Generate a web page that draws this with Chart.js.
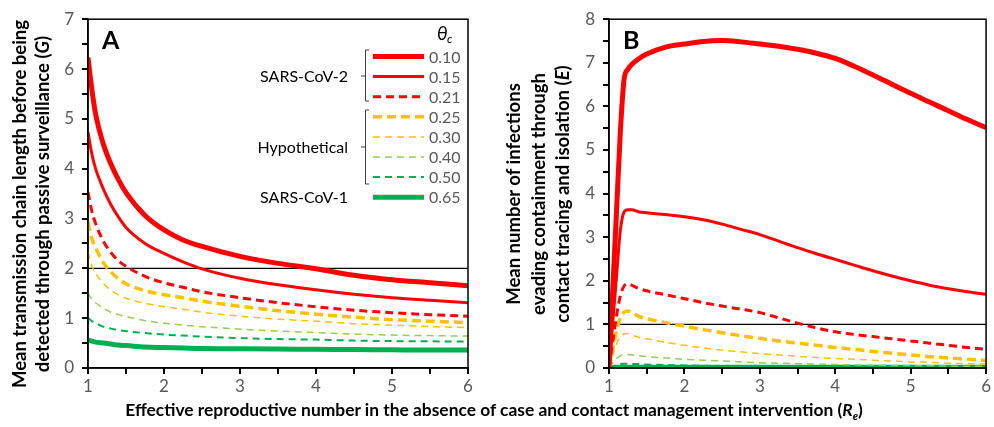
<!DOCTYPE html>
<html>
<head>
<meta charset="utf-8">
<script src="https://cdn.jsdelivr.net/npm/chart.js@4.4.1/dist/chart.umd.min.js"></script>
<style>
  body { margin: 0; background: #fff; width: 994px; height: 427px; position: relative; overflow: hidden; font-family: Lato, sans-serif; }
  canvas { position: absolute; top: 0; }
  #chartA { left: 0; }
  #chartB { left: 500px; }
  .ytitle { position: absolute; font-weight: bold; font-size: 18.5px; text-align: center; white-space: nowrap; transform: rotate(-90deg); color: #000; }
  .xtitle { position: absolute; left: 0; width: 988px; top: 399px; text-align: center; font-weight: bold; font-size: 17.4px; color: #000; }
  .xtitle sub { font-size: 11px; }
</style>
</head>
<body>
<canvas id="chartA" width="480" height="400"></canvas>
<canvas id="chartB" width="494" height="400"></canvas>
<div class="ytitle" style="left:-189px; top:181px; width:440px; height:46px; line-height:23px;">Mean transmission chain length before being<br>detected through passive surveillance (<i>G</i>)</div>
<div class="ytitle" style="left:378px; top:157px; width:320px; height:74px; line-height:24.5px;">Mean number of infections<br>evading containment through<br>contact tracing and isolation (<i>E</i>)</div>
<div class="xtitle">Effective reproductive number in the absence of case and contact management intervention (<i>R</i><sub><i>e</i></sub>)</div>
<script>
// theta_c groups and values
const thetas = ['0.10', '0.15', '0.21', '0.25', '0.30', '0.40', '0.50', '0.65'];

// panel A: chain length G
const reA = [1, 1.05, 1.1, 1.2, 1.3, 1.4, 1.5, 1.75, 2, 2.25, 2.5, 3, 3.5, 4, 4.5, 5, 5.5, 6];
const g010 = [6.23, 5.6, 5.1, 4.5, 4.1, 3.78, 3.52, 3.06, 2.77, 2.57, 2.44, 2.24, 2.1, 1.99, 1.86, 1.77, 1.71, 1.65];
const g015 = [4.73, 4.3, 4.0, 3.6, 3.28, 3.03, 2.82, 2.5, 2.3, 2.13, 1.99, 1.8, 1.67, 1.57, 1.48, 1.41, 1.36, 1.31];
const g021 = [3.53, 3.15, 2.9, 2.55, 2.32, 2.15, 2.04, 1.84, 1.71, 1.62, 1.53, 1.41, 1.31, 1.23, 1.16, 1.11, 1.07, 1.04];
const g025 = [2.93, 2.6, 2.42, 2.12, 1.93, 1.79, 1.69, 1.55, 1.47, 1.41, 1.34, 1.24, 1.15, 1.08, 1.02, 0.97, 0.94, 0.91];
const g030 = [2.33, 2.05, 1.9, 1.7, 1.56, 1.47, 1.4, 1.3, 1.23, 1.18, 1.12, 1.04, 0.98, 0.94, 0.89, 0.86, 0.83, 0.81];
const g040 = [1.51, 1.38, 1.31, 1.2, 1.12, 1.07, 1.03, 0.95, 0.9, 0.86, 0.83, 0.78, 0.74, 0.71, 0.68, 0.66, 0.65, 0.64];
const g050 = [1.01, 0.94, 0.9, 0.83, 0.79, 0.76, 0.74, 0.7, 0.67, 0.65, 0.63, 0.6, 0.58, 0.57, 0.55, 0.54, 0.535, 0.53];
const g065 = [0.56, 0.54, 0.52, 0.5, 0.48, 0.46, 0.45, 0.42, 0.41, 0.4, 0.39, 0.385, 0.38, 0.375, 0.37, 0.365, 0.36, 0.36];
const refA = 2;

// panel B: infections evading containment E
const reB = [1, 1.05, 1.1, 1.15, 1.2, 1.25, 1.3, 1.4, 1.5, 1.75, 2, 2.25, 2.5, 2.75, 3, 3.25, 3.5, 3.75, 4, 4.25, 4.5, 4.75, 5, 5.25, 5.5, 5.75, 6];
const e010 = [0, 1.8, 3.6, 5.4, 6.62, 6.85, 6.96, 7.1, 7.2, 7.36, 7.43, 7.49, 7.51, 7.48, 7.43, 7.38, 7.31, 7.22, 7.1, 6.92, 6.72, 6.51, 6.3, 6.1, 5.9, 5.7, 5.51];
const e015 = [0, 1.05, 2.1, 3.15, 3.58, 3.63, 3.63, 3.58, 3.56, 3.52, 3.47, 3.4, 3.3, 3.18, 3.06, 2.91, 2.76, 2.62, 2.49, 2.36, 2.23, 2.11, 2.0, 1.9, 1.82, 1.75, 1.69];
const e021 = [0, 0.6, 1.2, 1.65, 1.88, 1.93, 1.9, 1.82, 1.77, 1.68, 1.59, 1.5, 1.42, 1.35, 1.27, 1.15, 1.03, 0.92, 0.83, 0.77, 0.72, 0.67, 0.62, 0.57, 0.52, 0.47, 0.43];
const e025 = [0, 0.45, 0.85, 1.15, 1.28, 1.31, 1.27, 1.18, 1.13, 1.04, 0.96, 0.88, 0.81, 0.74, 0.68, 0.62, 0.57, 0.52, 0.47, 0.43, 0.38, 0.34, 0.3, 0.26, 0.23, 0.2, 0.17];
const e030 = [0, 0.3, 0.55, 0.72, 0.78, 0.79, 0.76, 0.7, 0.67, 0.59, 0.52, 0.46, 0.41, 0.37, 0.33, 0.3, 0.27, 0.24, 0.22, 0.2, 0.18, 0.16, 0.14, 0.13, 0.11, 0.1, 0.09];
const e040 = [0, 0.12, 0.22, 0.28, 0.31, 0.31, 0.3, 0.28, 0.26, 0.23, 0.2, 0.18, 0.16, 0.14, 0.12, 0.11, 0.1, 0.09, 0.08, 0.07, 0.065, 0.06, 0.055, 0.05, 0.045, 0.04, 0.04];
const e050 = [0, 0.04, 0.07, 0.09, 0.1, 0.1, 0.095, 0.09, 0.08, 0.07, 0.06, 0.05, 0.045, 0.04, 0.035, 0.032, 0.03, 0.028, 0.026, 0.024, 0.022, 0.02, 0.02, 0.018, 0.017, 0.016, 0.015];
const e065 = [0, 0.01, 0.015, 0.02, 0.02, 0.02, 0.02, 0.02, 0.02, 0.02, 0.02, 0.02, 0.02, 0.02, 0.02, 0.02, 0.02, 0.02, 0.02, 0.02, 0.02, 0.02, 0.02, 0.02, 0.02, 0.02, 0.02];
const refB = 1;
const refStartB = 1.06;

// line styles per theta
const colors = ['#ff0000', '#ff0000', '#ff0000', '#ffc000', '#ffc000', '#92d050', '#00b050', '#00b050'];
const widths = [5, 3, 3, 3.5, 1.5, 1.5, 2, 5];
const dashes = [[], [], [8, 5], [9, 5], [7, 5], [7, 5], [7, 5], []];

const gSeries = [g010, g015, g021, g025, g030, g040, g050, g065];
const eSeries = [e010, e015, e021, e025, e030, e040, e050, e065];

function buildSets(xs, series, refY, refX0) {
    const sets = series.map((ys, i) => ({
        label: thetas[i],
        data: xs.map((x, j) => ({ x: x, y: ys[j] })),
        borderColor: colors[i],
        borderWidth: widths[i],
        borderDash: dashes[i],
        pointRadius: 0,
        cubicInterpolationMode: 'monotone',
        fill: false,
    }));
    sets.push({
        label: 'ref',
        data: [{ x: refX0, y: refY }, { x: 6, y: refY }],
        borderColor: '#000',
        borderWidth: 1.3,
        pointRadius: 0,
        fill: false,
    });
    return sets;
}

// box round the plot area plus outward tick marks at every scale tick
const frame = {
    id: 'frame',
    afterDraw(chart) {
        const a = chart.chartArea;
        const ctx = chart.ctx;
        ctx.save();
        ctx.strokeStyle = '#000';
        ctx.lineWidth = 1.5;
        ctx.strokeRect(a.left, a.top, a.right - a.left, a.bottom - a.top);
        ctx.lineWidth = 2;
        ctx.beginPath();
        chart.scales.x.ticks.forEach(t => {
            const px = Math.round(chart.scales.x.getPixelForValue(t.value));
            ctx.moveTo(px, a.bottom);
            ctx.lineTo(px, a.bottom + 6);
        });
        chart.scales.y.ticks.forEach(t => {
            const py = Math.round(chart.scales.y.getPixelForValue(t.value));
            ctx.moveTo(a.left, py);
            ctx.lineTo(a.left - 6, py);
        });
        ctx.stroke();
        ctx.restore();
    }
};

function panelLetter(letter, x) {
    return {
        id: 'letter' + letter,
        afterDraw(chart) {
            const ctx = chart.ctx;
            ctx.save();
            ctx.font = 'bold 25px Lato, sans-serif';
            ctx.fillStyle = '#000';
            ctx.textBaseline = 'alphabetic';
            ctx.fillText(letter, x, 49);
            ctx.restore();
        }
    };
}

const thetaLegend = {
    id: 'thetaLegend',
    afterDraw(chart) {
        const ctx = chart.ctx;
        const sets = chart.data.datasets.filter(d => d.label !== 'ref');
        ctx.save();
        ctx.font = 'italic 19px Lato, sans-serif';
        ctx.fillStyle = '#000';
        ctx.textBaseline = 'alphabetic';
        ctx.fillText('\u03b8', 437, 40);
        ctx.font = 'italic 12px Lato, sans-serif';
        ctx.fillText('c', 447, 43);
        sets.forEach((d, i) => {
            const y = 56.5 + i * 20.1;
            ctx.strokeStyle = d.borderColor;
            ctx.lineWidth = d.borderWidth;
            ctx.setLineDash(d.borderDash);
            ctx.beginPath();
            ctx.moveTo(373, y);
            ctx.lineTo(424, y);
            ctx.stroke();
            ctx.setLineDash([]);
            ctx.font = '16px Lato, sans-serif';
            ctx.fillStyle = '#595959';
            ctx.textAlign = 'left';
            ctx.textBaseline = 'middle';
            ctx.fillText(d.label, 429, y + 1);
        });
        ctx.fillStyle = '#000';
        ctx.textAlign = 'right';
        ctx.font = '16px Lato, sans-serif';
        ctx.fillText('SARS-CoV-2', 348, 77);
        ctx.fillText('Hypothetical', 348, 148);
        ctx.fillText('SARS-CoV-1', 348, 198);
        ctx.strokeStyle = '#404040';
        ctx.lineWidth = 1;
        [[50, 101, 76], [110, 184, 147]].forEach(b => {
            ctx.beginPath();
            ctx.moveTo(369, b[0]);
            ctx.lineTo(365.5, b[0]);
            ctx.lineTo(365.5, b[1]);
            ctx.lineTo(369, b[1]);
            ctx.moveTo(365.5, b[2]);
            ctx.lineTo(361, b[2]);
            ctx.stroke();
        });
        ctx.restore();
    }
};

function axes(yMax, yWidth) {
    return {
        x: {
            type: 'linear',
            min: 1, max: 6,
            afterFit: (s) => { s.height = 32; },
            ticks: {
                stepSize: 0.5,
                autoSkip: false,
                maxRotation: 0,
                padding: 3,
                color: '#595959',
                font: { family: 'Lato, sans-serif', size: 17 },
                callback: (v) => Number.isInteger(v) ? v : '',
            },
            grid: { drawOnChartArea: false, tickLength: 5, color: '#000' },
            border: { color: '#000', width: 1.5 },
        },
        y: {
            min: 0, max: yMax,
            afterFit: (s) => { s.width = yWidth; },
            ticks: {
                stepSize: 0.5,
                autoSkip: false,
                padding: 9,
                color: '#595959',
                font: { family: 'Lato, sans-serif', size: 17 },
                callback: (v) => Number.isInteger(v) ? v : '',
            },
            grid: { drawOnChartArea: false, tickLength: 5, color: '#000' },
            border: { color: '#000', width: 1.5 },
        }
    };
}

new Chart(document.getElementById('chartA'), {
    type: 'line',
    data: { datasets: buildSets(reA, gSeries, refA, 1) },
    options: {
        responsive: false,
        animation: false,
        layout: { padding: { top: 17, right: 12, left: 0, bottom: 0 } },
        plugins: { legend: { display: false }, tooltip: { enabled: false } },
        scales: axes(7, 88),
    },
    plugins: [frame, panelLetter('A', 102), thetaLegend],
});

new Chart(document.getElementById('chartB'), {
    type: 'line',
    data: { datasets: buildSets(reB, eSeries, refB, refStartB) },
    options: {
        responsive: false,
        animation: false,
        layout: { padding: { top: 17, right: 4, left: 0, bottom: 0 } },
        plugins: { legend: { display: false }, tooltip: { enabled: false } },
        scales: axes(8, 109),
    },
    plugins: [frame, panelLetter('B', 123)],
});
</script>
</body>
</html>
